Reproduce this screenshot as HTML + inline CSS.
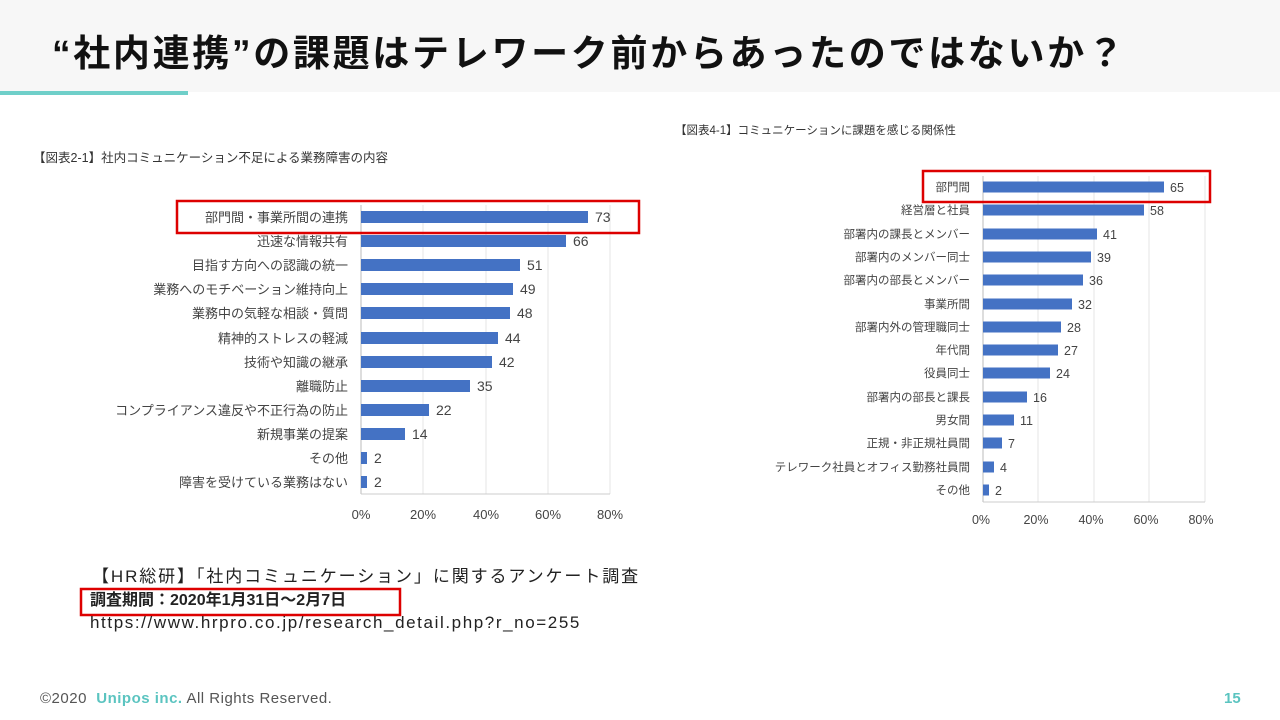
<!DOCTYPE html>
<html><head><meta charset="utf-8"><style>
body{margin:0;width:1280px;height:720px;background:#fff;position:relative;overflow:hidden;font-family:"Liberation Sans","Noto Sans CJK JP",sans-serif}
.t{position:absolute;white-space:nowrap;line-height:20px}
</style></head><body>
<div style="position:absolute;left:0;top:0;width:1280px;height:92px;background:#f7f7f7"></div>
<div style="position:absolute;left:0;top:91px;width:188px;height:4px;background:#6fcfc9"></div>
<div class="t" style="left:52px;top:34px;line-height:40px;font-size:37px;font-weight:bold;color:#111;letter-spacing:2.7px">“社内連携”の課題はテレワーク前からあったのではないか？</div>

<svg width="1280" height="720" style="position:absolute;left:0;top:0" font-family="Liberation Sans, Noto Sans CJK JP, sans-serif">
<text x="33" y="162" font-size="12.5" fill="#333">【図表2-1】社内コミュニケーション不足による業務障害の内容</text>
<g stroke="#e6e6e6" stroke-width="1">
<line x1="423" y1="205" x2="423" y2="494"/><line x1="486" y1="205" x2="486" y2="494"/><line x1="548" y1="205" x2="548" y2="494"/><line x1="610" y1="205" x2="610" y2="494"/>
</g>
<line x1="361" y1="205" x2="361" y2="494" stroke="#bbb"/>
<line x1="361" y1="494" x2="610" y2="494" stroke="#ccc"/>
<g font-size="13" fill="#444">
<text x="361" y="519" text-anchor="middle">0%</text><text x="423" y="519" text-anchor="middle">20%</text><text x="486" y="519" text-anchor="middle">40%</text><text x="548" y="519" text-anchor="middle">60%</text><text x="610" y="519" text-anchor="middle">80%</text>
</g>
<g fill="#4472c4">
<rect x="361" y="211" width="227" height="12"/>
<rect x="361" y="235" width="205" height="12"/>
<rect x="361" y="259" width="159" height="12"/>
<rect x="361" y="283" width="152" height="12"/>
<rect x="361" y="307" width="149" height="12"/>
<rect x="361" y="332" width="137" height="12"/>
<rect x="361" y="356" width="131" height="12"/>
<rect x="361" y="380" width="109" height="12"/>
<rect x="361" y="404" width="68" height="12"/>
<rect x="361" y="428" width="44" height="12"/>
<rect x="361" y="452" width="6" height="12"/>
<rect x="361" y="476" width="6" height="12"/>
</g>
<g font-size="13" fill="#444" text-anchor="end">
<text x="348" y="222">部門間・事業所間の連携</text>
<text x="348" y="246">迅速な情報共有</text>
<text x="348" y="270">目指す方向への認識の統一</text>
<text x="348" y="294">業務へのモチベーション維持向上</text>
<text x="348" y="318">業務中の気軽な相談・質問</text>
<text x="348" y="343">精神的ストレスの軽減</text>
<text x="348" y="367">技術や知識の継承</text>
<text x="348" y="391">離職防止</text>
<text x="348" y="415">コンプライアンス違反や不正行為の防止</text>
<text x="348" y="439">新規事業の提案</text>
<text x="348" y="463">その他</text>
<text x="348" y="487">障害を受けている業務はない</text>
</g>
<g font-size="14" fill="#444">
<text x="595" y="222">73</text>
<text x="573" y="246">66</text>
<text x="527" y="270">51</text>
<text x="520" y="294">49</text>
<text x="517" y="318">48</text>
<text x="505" y="343">44</text>
<text x="499" y="367">42</text>
<text x="477" y="391">35</text>
<text x="436" y="415">22</text>
<text x="412" y="439">14</text>
<text x="374" y="463">2</text>
<text x="374" y="487">2</text>
</g>

<text x="675" y="134" font-size="11.5" fill="#333">【図表4-1】コミュニケーションに課題を感じる関係性</text>
<g stroke="#e6e6e6" stroke-width="1">
<line x1="1038" y1="176" x2="1038" y2="502"/><line x1="1094" y1="176" x2="1094" y2="502"/><line x1="1149" y1="176" x2="1149" y2="502"/><line x1="1205" y1="176" x2="1205" y2="502"/>
</g>
<line x1="983" y1="176" x2="983" y2="502" stroke="#bbb"/>
<line x1="983" y1="502" x2="1205" y2="502" stroke="#ccc"/>
<g font-size="12.5" fill="#444">
<text x="981" y="524" text-anchor="middle">0%</text><text x="1036" y="524" text-anchor="middle">20%</text><text x="1091" y="524" text-anchor="middle">40%</text><text x="1146" y="524" text-anchor="middle">60%</text><text x="1201" y="524" text-anchor="middle">80%</text>
</g>
<g fill="#4472c4">
<rect x="983" y="181.5" width="181" height="11"/>
<rect x="983" y="204.5" width="161" height="11"/>
<rect x="983" y="228.5" width="114" height="11"/>
<rect x="983" y="251.5" width="108" height="11"/>
<rect x="983" y="274.5" width="100" height="11"/>
<rect x="983" y="298.5" width="89" height="11"/>
<rect x="983" y="321.5" width="78" height="11"/>
<rect x="983" y="344.5" width="75" height="11"/>
<rect x="983" y="367.5" width="67" height="11"/>
<rect x="983" y="391.5" width="44" height="11"/>
<rect x="983" y="414.5" width="31" height="11"/>
<rect x="983" y="437.5" width="19" height="11"/>
<rect x="983" y="461.5" width="11" height="11"/>
<rect x="983" y="484.5" width="6" height="11"/>
</g>
<g font-size="11.5" fill="#444" text-anchor="end">
<text x="970" y="191">部門間</text>
<text x="970" y="214">経営層と社員</text>
<text x="970" y="238">部署内の課長とメンバー</text>
<text x="970" y="261">部署内のメンバー同士</text>
<text x="970" y="284">部署内の部長とメンバー</text>
<text x="970" y="308">事業所間</text>
<text x="970" y="331">部署内外の管理職同士</text>
<text x="970" y="354">年代間</text>
<text x="970" y="377">役員同士</text>
<text x="970" y="401">部署内の部長と課長</text>
<text x="970" y="424">男女間</text>
<text x="970" y="447">正規・非正規社員間</text>
<text x="970" y="471">テレワーク社員とオフィス勤務社員間</text>
<text x="970" y="494">その他</text>
</g>
<g font-size="12.5" fill="#444">
<text x="1170" y="192">65</text>
<text x="1150" y="215">58</text>
<text x="1103" y="239">41</text>
<text x="1097" y="262">39</text>
<text x="1089" y="285">36</text>
<text x="1078" y="309">32</text>
<text x="1067" y="332">28</text>
<text x="1064" y="355">27</text>
<text x="1056" y="378">24</text>
<text x="1033" y="402">16</text>
<text x="1020" y="425">11</text>
<text x="1008" y="448">7</text>
<text x="1000" y="472">4</text>
<text x="995" y="495">2</text>
</g>

<rect x="177" y="201" width="462" height="32" fill="none" stroke="#d00" stroke-width="2.5"/>
<rect x="923" y="171" width="287" height="31" fill="none" stroke="#d00" stroke-width="2.5"/>
<rect x="81" y="589" width="319" height="26" fill="none" stroke="#d00" stroke-width="2.5"/>
</svg>

<div class="t" style="left:92px;top:567px;font-size:17px;color:#222;letter-spacing:1.9px">【HR総研】「社内コミュニケーション」に関するアンケート調査</div>
<div class="t" style="left:90px;top:591px;font-size:16px;font-weight:bold;color:#222">調査期間：2020年1月31日～2月7日</div>
<div class="t" style="left:90px;top:613px;font-size:17px;color:#222;letter-spacing:1.6px">https://www.hrpro.co.jp/research_detail.php?r_no=255</div>
<div class="t" style="left:40px;top:689px;font-size:15px;color:#555;letter-spacing:0.5px">©2020 &nbsp;<b style="color:#5bc4c0">Unipos inc.</b> All Rights Reserved.</div>
<div class="t" style="left:1224px;top:689px;font-size:15px;font-weight:bold;color:#5bc4c0">15</div>
</body></html>
